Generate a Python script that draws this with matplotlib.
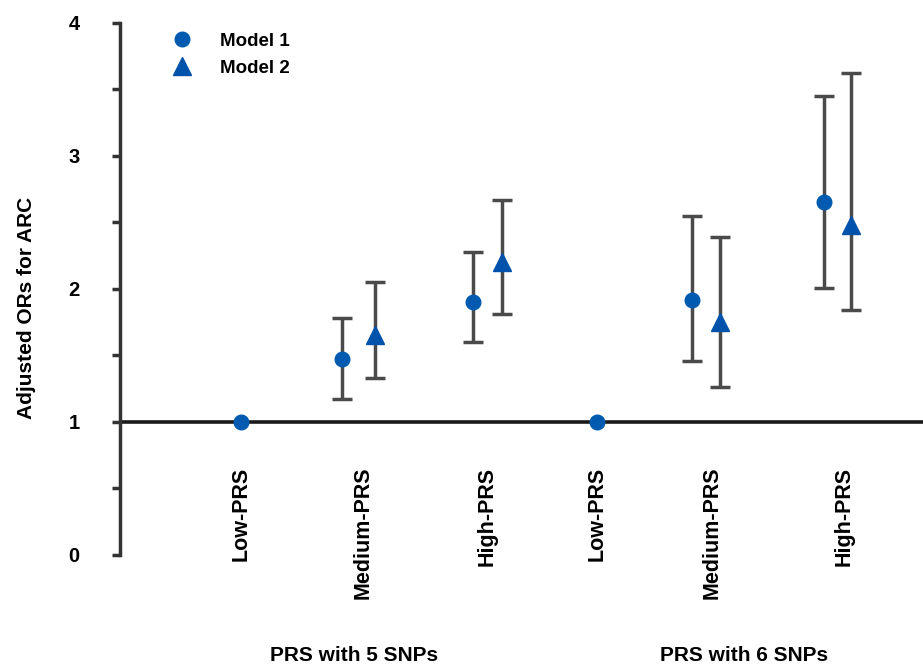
import numpy as np
import matplotlib
matplotlib.use("Agg")
import matplotlib.pyplot as plt
from matplotlib.lines import Line2D
from matplotlib.transforms import blended_transform_factory

plt.rcParams["font.family"] = ["Liberation Sans", "DejaVu Sans"]
plt.rcParams["font.weight"] = "bold"

# ── Data ─────────────────────────────────────────────────────────────────────
categories = ["Low-PRS", "Medium-PRS", "High-PRS", "Low-PRS", "Medium-PRS", "High-PRS"]
groups = ["PRS with 5 SNPs", "PRS with 6 SNPs"]

m1_or = [1.00, 1.47, 1.90, 1.00, 1.92, 2.65]
m1_lo = [1.00, 1.17, 1.60, 1.00, 1.46, 2.01]
m1_hi = [1.00, 1.78, 2.28, 1.00, 2.55, 3.45]

m2_or = [np.nan, 1.65, 2.20, np.nan, 1.75, 2.48]
m2_lo = [np.nan, 1.33, 1.81, np.nan, 1.26, 1.84]
m2_hi = [np.nan, 2.05, 2.67, np.nan, 2.39, 3.62]

# ── Layout ───────────────────────────────────────────────────────────────────
cat_x = np.array([1.0, 2.01, 3.04, 3.95, 4.90, 6.0])
m1_x = cat_x - np.array([0.0, 0.17, 0.12, 0.0, 0.16, 0.17])
m2_x = cat_x + np.array([0.0, 0.10, 0.12, 0.0, 0.07, 0.05])
group_x = [1.94, 5.17]

c1 = "#005BB0"
c2 = "#0052AA"
ecol = "#4a4a4a"

fig = plt.figure(figsize=(9.23, 6.66), dpi=100)
ax = fig.add_axes([0.130, 0.1667, 0.87, 0.799])

ax.axhline(1, color="#1a1a1a", lw=2.6, zorder=1)

# Model 1
m1_or, m1_lo, m1_hi = map(np.array, (m1_or, m1_lo, m1_hi))
has_ci = m1_hi > m1_lo
ax.errorbar(m1_x[has_ci], m1_or[has_ci],
            yerr=[m1_or[has_ci] - m1_lo[has_ci], m1_hi[has_ci] - m1_or[has_ci]],
            fmt="none", ecolor=ecol, elinewidth=2.5, capsize=7, capthick=2.5, zorder=2)
ax.plot(m1_x, m1_or, "o", color=c1, ms=10.5, ls="none", zorder=3)

# Model 2
m2_or, m2_lo, m2_hi = map(np.array, (m2_or, m2_lo, m2_hi))
ok = ~np.isnan(m2_or)
ax.errorbar(m2_x[ok], m2_or[ok],
            yerr=[m2_or[ok] - m2_lo[ok], m2_hi[ok] - m2_or[ok]],
            fmt="none", ecolor=ecol, elinewidth=2.5, capsize=7, capthick=2.5, zorder=2)
ax.plot(m2_x, m2_or, "^", color=c2, ms=12.5, ls="none", zorder=3)

# ── Axes styling ─────────────────────────────────────────────────────────────
ax.set_xlim(0, 6.65)
ax.set_ylim(0, 4)
for s in ["top", "right", "bottom"]:
    ax.spines[s].set_visible(False)
ax.spines["left"].set_linewidth(2.5)
ax.spines["left"].set_color("#333333")
ax.set_xticks([])
ax.set_yticks([0, 1, 2, 3, 4])
ax.set_yticks([0.5, 1.5, 2.5, 3.5], minor=True)
ax.tick_params(axis="y", which="both", direction="out", length=6, width=2.5,
               color="#333333", labelsize=14.5, pad=23)
for lab in ax.get_yticklabels():
    lab.set_fontweight("bold")

ax.set_ylabel("Adjusted ORs for ARC", fontsize=15, fontweight="bold")
ax.yaxis.set_label_coords(-0.104, 0.465)

trans = blended_transform_factory(ax.transData, ax.transAxes)
for x, lab in zip(cat_x, categories):
    ax.text(x, 0.166, lab, rotation=90, ha="center", va="top",
            fontsize=15.5, fontweight="bold", transform=trans)
for x, lab in zip(group_x, groups):
    ax.text(x, -0.188, lab, ha="center", va="center",
            fontsize=15, fontweight="bold", transform=trans)

handles = [
    Line2D([], [], marker="o", color=c1, ls="none", ms=10.5),
    Line2D([], [], marker="^", color=c2, ls="none", ms=12.5),
]
ax.legend(handles, ["Model 1", "Model 2"], loc="upper left",
          bbox_to_anchor=(0.066, 0.982), frameon=False, borderpad=0,
          borderaxespad=0, handlelength=1.0, handletextpad=1.5,
          labelspacing=0.55, prop={"size": 13.5, "weight": "bold"})

fig.savefig("out.png", dpi=100)
